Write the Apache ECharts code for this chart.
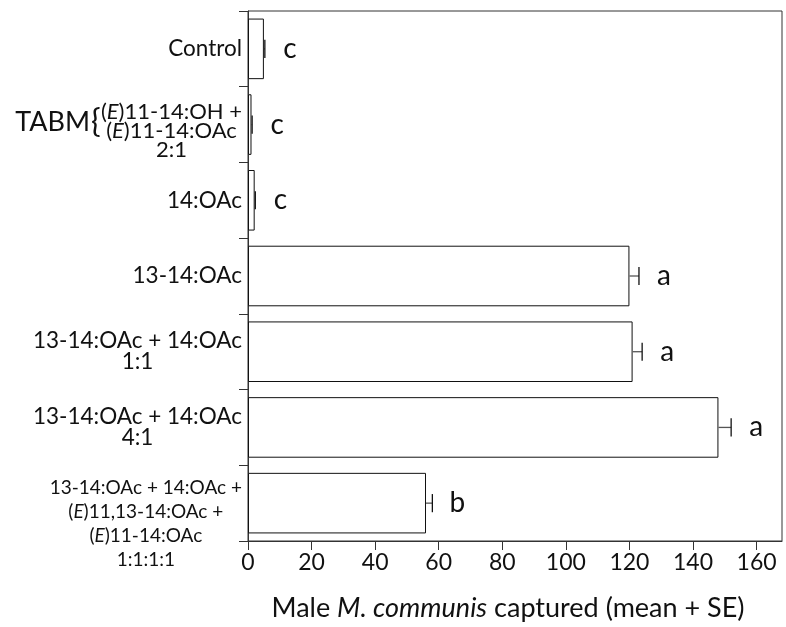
<!DOCTYPE html>
<html><head><meta charset="utf-8">
<script src="https://cdn.jsdelivr.net/npm/echarts@6/dist/echarts.min.js"></script>
<style>html,body{margin:0;padding:0;background:#fff}#c{width:786px;height:627px}</style>
</head><body><div id="c"></div>
<script>
const categories = [
  ['Control'],
  ['(E)11-14:OH +', '(E)11-14:OAc', '2:1'],
  ['14:OAc'],
  ['13-14:OAc'],
  ['13-14:OAc + 14:OAc', '1:1'],
  ['13-14:OAc + 14:OAc', '4:1'],
  ['13-14:OAc + 14:OAc +', '(E)11,13-14:OAc +', '(E)11-14:OAc', '1:1:1:1']
];
const means = [5, 1.1, 2.1, 120, 121, 148, 56];
const se = [0.3, 0.2, 0.2, 3, 3, 4, 2];
const letters = ['c', 'c', 'c', 'a', 'a', 'a', 'b'];
const xTicks = [0, 20, 40, 60, 80, 100, 120, 140, 160];
const xMax = 168;
const groupLabel = 'TABM';
const groupIndex = 1;
const titleParts = ['Male ', 'M. communis', ' captured (mean + SE)'];

const FONT = 'Lato';
const INK = '#111';
const LINE = '#333';
const catKeys = categories.map(l => l.join('\n'));

function richLine(line, st) {
  const parts = line.split('(E)');
  let out = '';
  parts.forEach((p, k) => {
    if (k > 0) out += '{' + st + '|(}{' + st + 'i|E}{' + st + '|)}';
    if (p.length) out += '{' + st + '|' + p + '}';
  });
  return out;
}
function labelFormatter(value, index) {
  const lines = categories[index];
  let st = 'm', pre = '';
  if (index === groupIndex) { st = 't'; pre = '{sp1| }\n'; }
  if (index === categories.length - 1) { st = 's'; pre = '{sp2| }\n'; }
  return pre + lines.map(l => richLine(l, st)).join('\n');
}
function rs(size, lh, italic) {
  return { fontFamily: FONT, fontSize: size, lineHeight: lh, color: INK, align: 'center', fontStyle: italic ? 'italic' : 'normal' };
}

const chart = echarts.init(document.getElementById('c'), null, { renderer: 'canvas' });
const option = {
  animation: false,
  backgroundColor: '#fff',
  grid: { left: 248, right: 4, top: 11, bottom: 80, show: true, borderColor: LINE, borderWidth: 1, backgroundColor: 'transparent' },
  xAxis: {
    type: 'value', min: 0, max: xMax, interval: 20,
    axisLine: { show: true, lineStyle: { color: LINE, width: 1 } },
    axisTick: { show: true, length: 9, customValues: xTicks, lineStyle: { color: LINE } },
    axisLabel: { customValues: xTicks, fontFamily: FONT, fontSize: 23, color: INK, margin: 10 },
    splitLine: { show: false },
    name: '{n|' + titleParts[0] + '}{ni|' + titleParts[1] + '}{n|' + titleParts[2] + '}',
    nameLocation: 'middle', nameGap: 52,
    nameTextStyle: {
      fontFamily: FONT, fontSize: 27, color: INK, padding: [0, 14, 0, 0],
      rich: { n: { fontFamily: FONT, fontSize: 27, color: INK, lineHeight: 31 }, ni: { fontFamily: FONT, fontSize: 27, color: INK, fontStyle: 'italic', lineHeight: 31 } }
    }
  },
  yAxis: {
    type: 'category', inverse: true, data: catKeys,
    axisLine: { show: true, lineStyle: { color: LINE, width: 1 } },
    axisTick: { show: true, length: 9, lineStyle: { color: LINE } },
    axisLabel: {
      formatter: labelFormatter, margin: 6, interval: 0,
      rich: {
        m: rs(22.5, 21), mi: rs(22.5, 21, true),
        t: rs(22, 19), ti: rs(22, 19, true),
        s: rs(19, 24), si: rs(19, 24, true),
        sp1: { fontSize: 1, lineHeight: 12 },
        sp2: { fontSize: 1, lineHeight: 42 }
      }
    },
    splitLine: { show: false }
  },
  series: [
    {
      type: 'bar', data: means, barCategoryGap: '20%',
      itemStyle: { color: '#fff', borderColor: INK, borderWidth: 1 },
      z: 2
    },
    {
      type: 'custom',
      encode: { x: 0, y: 1 },
      data: means.map((m, i) => [m + se[i], i, m]),
      z: 3,
      renderItem(params, api) {
        const yi = api.value(1);
        const start = api.coord([api.value(2), yi]);
        const end = api.coord([api.value(0), yi]);
        const band = api.size([0, 1])[1];
        const capH = band * 0.24;
        return {
          type: 'group', children: [
            { type: 'line', shape: { x1: start[0], y1: start[1], x2: end[0], y2: end[1] }, style: { stroke: '#555', lineWidth: 1.3 } },
            { type: 'line', shape: { x1: end[0], y1: end[1] - capH / 2, x2: end[0], y2: end[1] + capH / 2 }, style: { stroke: INK, lineWidth: 1.3 } },
            { type: 'text', x: end[0] + 25, y: end[1], style: { text: letters[params.dataIndex], fontFamily: FONT, fontSize: 28, fill: INK, align: 'center', verticalAlign: 'middle' } }
          ]
        };
      }
    }
  ]
};
chart.setOption(option);
const gy = chart.convertToPixel({ yAxisIndex: 0 }, catKeys[groupIndex]);
chart.setOption({
  graphic: [
    { type: 'text', x: 90, y: gy - 2, style: { text: groupLabel, fontFamily: FONT, fontSize: 27, fill: INK, align: 'right', verticalAlign: 'middle' } },
    { type: 'text', x: 91, y: gy - 3, style: { text: '{', fontFamily: FONT, fontSize: 32, fill: INK, align: 'left', verticalAlign: 'middle' } }
  ]
});
</script>
</body></html>
